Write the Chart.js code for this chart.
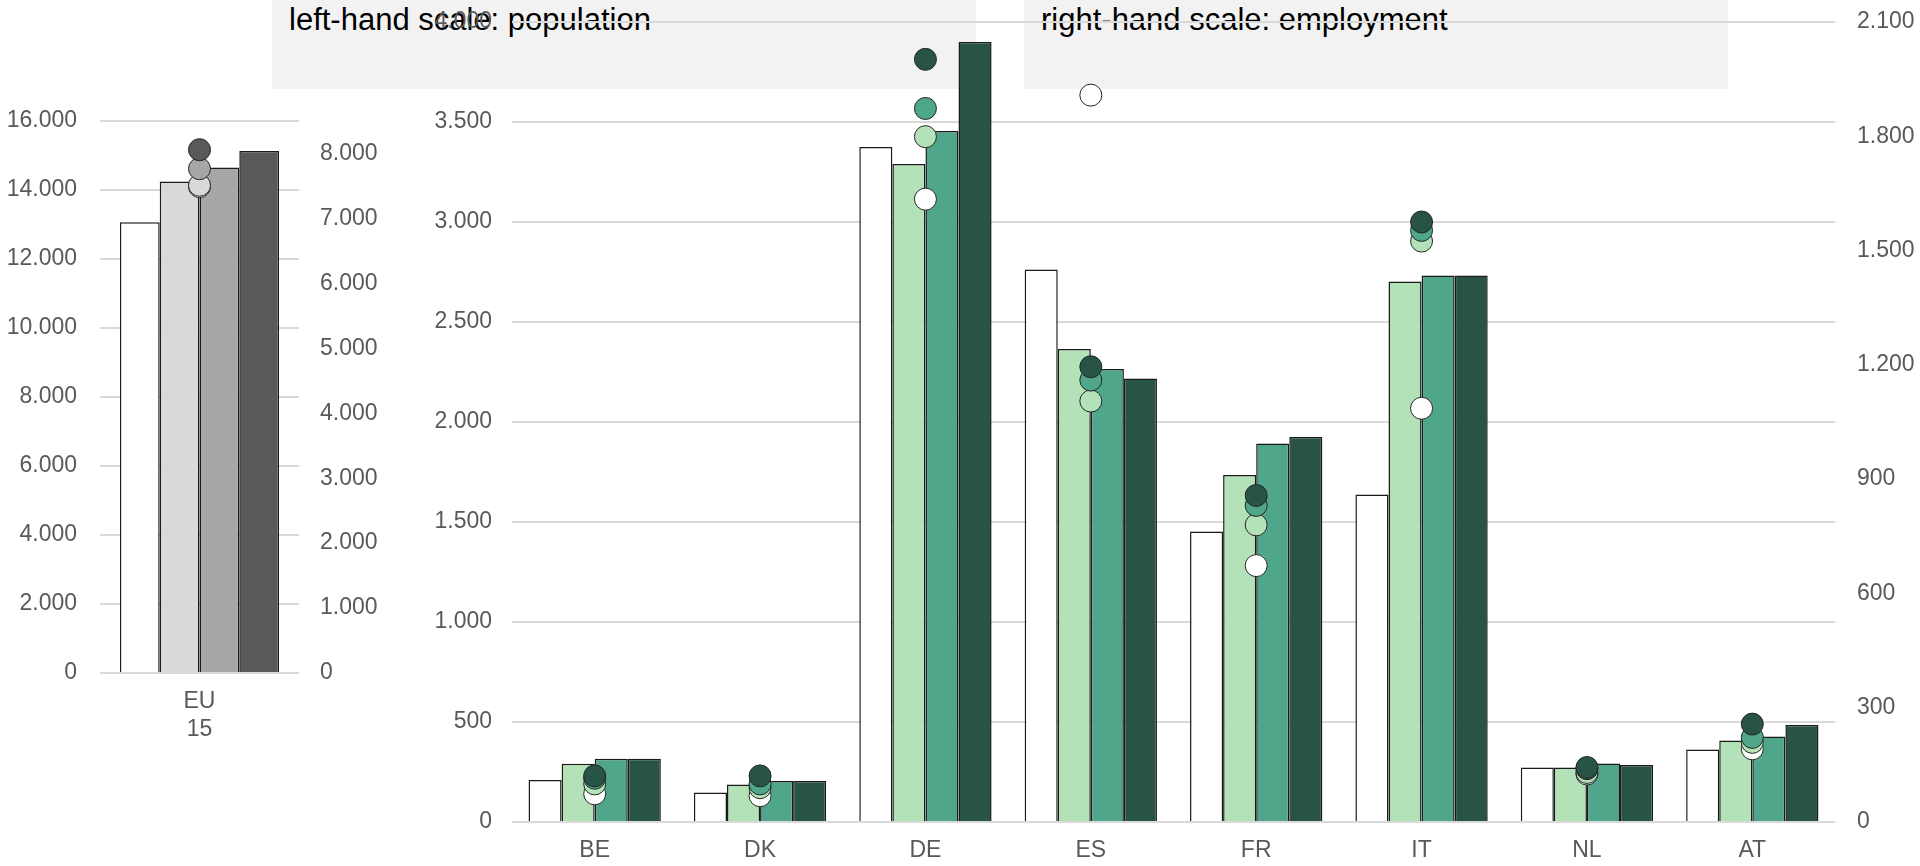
<!DOCTYPE html>
<html>
<head>
<meta charset="utf-8">
<script src="https://cdn.jsdelivr.net/npm/chart.js@4.4.0/dist/chart.umd.min.js"></script>
<style>
  body { margin: 0; background: #fff; width: 1920px; height: 866px; position: relative; overflow: hidden; font-family: 'Liberation Sans', Arial, sans-serif; }
  .note { position: absolute; top: 0; width: 704px; height: 89px; box-sizing: border-box; padding: 2px 0 0 17px; background: #f2f2f2; color: #000; font-size: 31px; line-height: 35px; z-index: 0; }
  canvas { position: absolute; top: 0; z-index: 1; }
</style>
</head>
<body>
<div class="note" style="left:272px">left-hand scale: population</div>
<div class="note" style="left:1024px">right-hand scale: employment</div>
<canvas id="euChart" width="400" height="866" style="left:0"></canvas>
<canvas id="countryChart" width="1520" height="866" style="left:400px"></canvas>
<script>
// countries on the big panel
const countries = ['BE', 'DK', 'DE', 'ES', 'FR', 'IT', 'NL', 'AT'];

// population (bars, left-hand scale), four periods
const pop1 = [210, 147, 3375, 2763, 1453, 1637, 272, 363];
const pop2 = [291, 188, 3290, 2365, 1735, 2702, 272, 407];
const pop3 = [316, 205, 3455, 2265, 1893, 2733, 293, 427];
const pop4 = [316, 205, 3900, 2218, 1925, 2733, 285, 485];

// employment (dots, right-hand scale)
const emp1 = [74, 69, 1635, 1908, 673, 1086, 126, 192];
const emp2 = [100, 90, 1799, 1105, 780, 1525, 130, 209];
const emp3 = [115, 100, 1873, 1160, 831, 1553, 140, 222];
const emp4 = [121, 121, 2002, 1195, 857, 1575, 143, 257];

// EU-15 total on the small panel
const euLabels = [['EU', '15']];
const euPop = [13065, 14243, 14649, 15133];
const euEmp = [7490, 7510, 7766, 8058];
const euEmpTicks = [0, 1000, 2000, 3000, 4000, 5000, 6000, 7000, 8000];

const periods = ['period 1', 'period 2', 'period 3', 'period 4'];
const greens = ['#ffffff', '#b4e2b8', '#50a68a', '#285447'];
const greys = ['#ffffff', '#d9d9d9', '#a6a6a6', '#595959'];

const tickFont = { family: "'Liberation Sans', Arial, sans-serif", size: 23 };
const tickColor = '#595959';

// 16000 -> "16.000"
function fmt(v) {
  return String(v).replace(/\B(?=(\d{3})+(?!\d))/g, '.');
}

function barSet(label, data, color) {
  return {
    type: 'bar', label: label, data: data, yAxisID: 'y',
    backgroundColor: color, borderColor: '#1a1a1a', borderWidth: 1.5,
    categoryPercentage: 0.8, barPercentage: 1.0, order: 10
  };
}

function dotSet(label, data, color, order) {
  return {
    type: 'line', label: label, data: data, yAxisID: 'y1', showLine: false,
    borderColor: color, backgroundColor: color,
    pointRadius: 11, pointHoverRadius: 11,
    pointBackgroundColor: color, pointBorderColor: '#262626', pointBorderWidth: 1,
    order: order
  };
}

// fixed axis width, and no extra room reserved above/below for the end labels
function sizeY(w) {
  return s => { s.width = w; s.paddingTop = 0; s.paddingBottom = 0; };
}

function makeScales(o) {
  const right = {
    position: 'right', min: 0, max: o.rightMax,
    grid: { display: false, drawTicks: false }, border: { display: false },
    ticks: { stepSize: o.rightStep, padding: o.rightPad, font: tickFont, color: tickColor, callback: fmt },
    afterFit: sizeY(o.rightWidth)
  };
  if (o.rightTicks) {
    right.afterBuildTicks = s => { s.ticks = o.rightTicks.map(v => ({ value: v })); };
  }
  return {
    x: {
      grid: { display: false, drawTicks: false }, border: { display: false },
      ticks: { font: tickFont, color: tickColor, padding: 15, maxRotation: 0 },
      afterFit: s => { s.height = o.xHeight; }
    },
    y: {
      position: 'left', min: 0, max: o.leftMax,
      grid: { color: '#d9d9d9', lineWidth: 2, drawTicks: false }, border: { display: false },
      ticks: { stepSize: o.leftStep, padding: o.leftPad, font: tickFont, color: tickColor, callback: fmt },
      afterFit: sizeY(o.leftWidth)
    },
    y1: right
  };
}

const common = {
  responsive: false,
  animation: false,
  devicePixelRatio: 1,
  plugins: { legend: { display: false }, tooltip: { enabled: false } }
};

// small panel: EU-15
const euBars = euPop.map((v, i) => barSet(periods[i], [v], greys[i]));
const euDots = euEmp.map((v, i) => dotSet(periods[i], [v], greys[i], 4 - i));
new Chart(document.getElementById('euChart'), {
  type: 'bar',
  data: { labels: euLabels, datasets: euBars.concat(euDots) },
  options: Object.assign({}, common, {
    layout: { autoPadding: false, padding: { top: 121, left: 0, right: 0, bottom: 0 } },
    scales: makeScales({
      xHeight: 193, leftMax: 16000, leftStep: 2000, leftPad: 23, leftWidth: 100,
      rightMax: 8500, rightStep: 1000, rightPad: 21, rightWidth: 101, rightTicks: euEmpTicks
    })
  })
});

// big panel: member states
const pops = [pop1, pop2, pop3, pop4];
const emps = [emp1, emp2, emp3, emp4];
const bars = pops.map((d, i) => barSet(periods[i], d, greens[i]));
const dots = emps.map((d, i) => dotSet(periods[i], d, greens[i], 4 - i));
new Chart(document.getElementById('countryChart'), {
  type: 'bar',
  data: { labels: countries, datasets: bars.concat(dots) },
  options: Object.assign({}, common, {
    layout: { autoPadding: false, padding: { top: 22, left: 0, right: 0, bottom: 0 } },
    scales: makeScales({
      xHeight: 44, leftMax: 4000, leftStep: 500, leftPad: 20, leftWidth: 112,
      rightMax: 2100, rightStep: 300, rightPad: 22, rightWidth: 85
    })
  })
});
</script>
</body>
</html>
